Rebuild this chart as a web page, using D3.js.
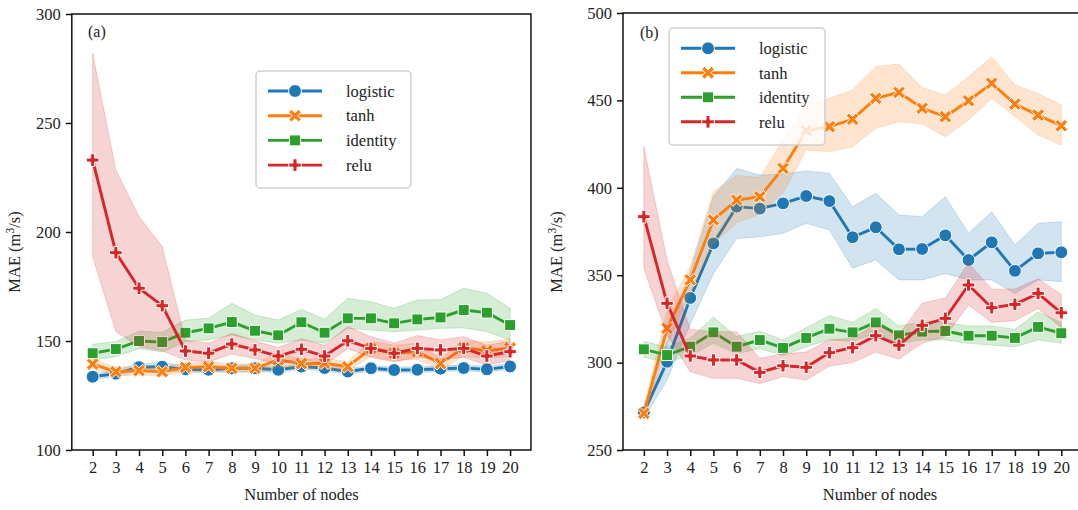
<!DOCTYPE html>
<html>
<head>
<meta charset="utf-8">
<script src="https://cdn.jsdelivr.net/npm/d3@7"></script>
<style>
  html, body { margin: 0; padding: 0; background: #fff; }
  svg { display: block; }
  svg text { font-family: "Liberation Serif", "Times New Roman", Times, serif !important; fill: #222; }
</style>
</head>
<body>
<svg id="chart" width="1078" height="510"></svg>
<script>
// ---------------- DATA ----------------
const nodes = [2,3,4,5,6,7,8,9,10,11,12,13,14,15,16,17,18,19,20];
const seriesNames = ["logistic","tanh","identity","relu"];
const seriesColors = ["#1f77b4","#ff7f0e","#2ca02c","#d62728"];
const seriesMarkers = ["circle","x","square","plus"];

// Panel (a)
const aTicks = [100,150,200,250,300];
const a_logistic    = [133.6,135.0,138.0,138.2,137.0,136.8,137.5,137.5,136.8,138.3,137.6,136.0,137.5,136.7,136.8,137.3,137.6,137.0,138.3];
const a_logistic_lo = [132.5,133.5,136.5,136.5,135.5,135.5,136.0,136.0,135.5,137.0,136.3,134.7,136.2,135.5,135.5,136.0,136.3,135.8,137.0];
const a_logistic_hi = [135.0,136.5,139.5,140.0,138.5,138.2,139.0,139.0,138.2,139.7,139.0,137.3,138.8,138.0,138.2,138.6,139.0,138.3,139.7];
const a_tanh        = [139.4,135.9,136.4,135.9,137.9,138.2,137.5,137.5,141.3,139.6,139.8,138.2,146.6,144.4,145.1,139.6,146.9,145.5,146.8];
const a_tanh_lo     = [137.5,134.0,134.5,134.0,136.0,136.0,135.5,135.5,138.0,137.5,137.5,136.0,143.0,141.0,141.5,137.0,143.0,142.0,143.0];
const a_tanh_hi     = [141.5,138.0,138.5,138.0,140.0,140.5,139.5,139.5,144.5,141.5,142.0,140.5,150.0,148.0,149.0,142.0,150.0,149.5,151.0];
const a_identity    = [144.4,146.3,150.0,149.5,153.8,155.8,158.7,154.7,152.6,158.6,153.8,160.4,160.4,158.1,159.9,160.8,164.2,163.0,157.3];
const a_identity_lo = [141.3,142.8,146.5,145.0,149.7,150.5,152.8,150.5,149.0,150.5,149.0,155.8,155.0,154.3,155.0,155.8,156.0,154.3,150.5];
const a_identity_hi = [148.5,149.7,154.5,154.0,159.6,160.4,167.3,161.9,159.6,164.5,160.0,169.6,168.0,165.0,168.8,169.0,174.2,171.9,165.0];
const a_relu        = [233.0,190.5,174.2,166.2,145.4,144.4,148.6,145.9,143.1,146.2,143.1,150.1,146.6,144.4,146.6,145.9,146.6,143.1,145.1];
const a_relu_lo     = [188.5,154.3,147.4,145.5,141.3,140.5,144.0,142.0,139.5,142.0,139.0,146.6,142.5,140.5,142.5,141.5,142.5,139.0,141.0];
const a_relu_hi     = [282.0,228.4,207.0,193.3,150.4,149.0,153.5,150.0,147.0,151.0,148.0,156.6,152.0,149.0,152.5,150.5,152.0,148.0,150.0];

// Panel (b)
const bTicks = [250,300,350,400,450,500];
const b_logistic    = [271.5,300.5,337.0,368.2,389.2,388.1,391.1,395.3,392.4,371.7,377.4,364.8,365.0,372.8,358.7,368.8,352.5,362.5,363.1];
const b_logistic_lo = [268.0,290.0,322.0,351.0,371.0,372.0,374.0,379.7,375.9,354.0,358.7,347.3,347.3,351.0,347.3,347.3,339.6,347.3,346.3];
const b_logistic_hi = [275.0,312.0,352.0,395.0,411.0,407.3,408.0,409.6,408.3,389.2,396.9,384.4,383.5,394.9,374.0,386.3,367.3,379.7,380.6];
const b_tanh        = [271.0,319.6,347.3,381.6,393.0,394.9,411.1,432.7,435.0,439.2,451.2,454.6,445.5,440.7,449.8,459.8,447.9,441.6,435.5];
const b_tanh_lo     = [268.0,310.0,340.0,368.0,380.0,385.0,397.0,421.6,420.7,423.5,434.0,437.8,436.6,429.2,438.8,451.2,440.8,430.2,424.5];
const b_tanh_hi     = [274.0,330.0,355.0,397.8,407.0,406.0,427.0,446.4,451.2,456.0,469.3,470.8,457.3,453.0,463.6,475.0,458.8,454.0,447.4];
const b_identity    = [307.6,304.3,309.1,317.3,309.1,312.9,308.4,314.1,319.4,317.3,323.0,315.6,317.7,318.1,315.4,315.4,314.1,320.4,316.8];
const b_identity_lo = [303,300,304,311,305,308,304,309,313,312,317,311,313,313,311,310,309,313,311];
const b_identity_hi = [312,309,314,326,315,318,313,320,327,323,331,321,323,323,321,321,319,329,323];
const b_relu        = [383.5,333.9,303.8,301.5,301.5,294.4,298.2,297.3,305.7,308.5,315.4,309.9,321.3,325.3,344.4,331.4,333.3,339.6,328.5];
const b_relu_lo     = [353.9,316.0,294.8,291.0,291.0,288.0,292.0,290.0,298.0,300.0,306.0,302.0,311.0,315.0,333.0,323.0,324.0,331.0,320.0];
const b_relu_hi     = [423.5,358.7,319.0,317.7,317.7,302.4,305.0,306.0,313.0,314.0,322.0,316.0,334.0,337.0,357.0,342.0,342.0,348.0,339.0];

// ---------------- DRAWING ----------------
const svg = d3.select("#chart");
const FONT = '"Liberation Serif", "Times New Roman", Times, serif';

function plusPoly(h, w) {
  return [[-w,-h],[w,-h],[w,-w],[h,-w],[h,w],[w,w],[w,h],[-w,h],[-w,w],[-h,w],[-h,-w],[-w,-w]];
}
function markerPath(type) {
  if (type === "circle") return d3.symbol(d3.symbolCircle, 130)();
  if (type === "square") return d3.symbol(d3.symbolSquare, 120)();
  if (type === "plus") {
    const p = plusPoly(6.3, 2.0);
    return "M" + p.map(q => q.join(",")).join("L") + "Z";
  }
  // filled X
  const p = plusPoly(7.0, 2.0).map(([x,y]) => {
    const c = Math.SQRT1_2;
    return [(x - y) * c, (x + y) * c];
  });
  return "M" + p.map(q => q.map(v => v.toFixed(2)).join(",")).join("L") + "Z";
}

function drawPanel(cfg) {
  const x = d3.scaleLinear().domain([1.1, 20.9]).range([cfg.left, cfg.left + 19.8 * 23.19]);
  const y = d3.scaleLinear().domain(cfg.yDomain).range([cfg.bottom, cfg.top]);
  const g = svg.append("g").attr("font-family", FONT);

  cfg.series.forEach((s, i) => {
    const col = seriesColors[i];
    const rows = nodes.map((n, k) => ({n, v: s.v[k], lo: s.lo[k], hi: s.hi[k]}));
    const area = d3.area().x(d => x(d.n)).y0(d => y(d.lo)).y1(d => y(d.hi));
    g.append("path").datum(rows).attr("d", area)
      .attr("fill", col).attr("fill-opacity", 0.2)
      .attr("stroke", col).attr("stroke-opacity", 0.2).attr("stroke-width", 1);
    const line = d3.line().x(d => x(d.n)).y(d => y(d.v));
    g.append("path").datum(rows).attr("d", line)
      .attr("fill", "none").attr("stroke", col).attr("stroke-width", 2.9);
    const mp = markerPath(seriesMarkers[i]);
    g.selectAll(null).data(rows).enter().append("path")
      .attr("d", mp)
      .attr("transform", d => `translate(${x(d.n)},${y(d.v)})`)
      .attr("fill", col).attr("stroke", "#fff").attr("stroke-width", 1);
  });

  const x0 = x.range()[0], x1 = x.range()[1];
  g.append("rect").attr("x", x0).attr("y", cfg.top).attr("width", x1 - x0).attr("height", cfg.bottom - cfg.top)
    .attr("fill", "none").attr("stroke", "#111").attr("stroke-width", 1.5);

  const xa = g.append("g").attr("transform", `translate(0,${cfg.bottom})`)
    .call(d3.axisBottom(x).tickValues(nodes).tickFormat(d3.format("d")).tickSize(6).tickPadding(5));
  const ya = g.append("g").attr("transform", `translate(${x0},0)`)
    .call(d3.axisLeft(y).tickValues(cfg.yTicks).tickFormat(d3.format("d")).tickSize(6).tickPadding(5));
  [xa, ya].forEach(a => {
    a.attr("font-family", FONT).attr("font-size", 16.5);
    a.select(".domain").remove();
    a.selectAll(".tick line").attr("stroke", "#111").attr("stroke-width", 1.5);
    a.selectAll(".tick text").attr("fill", "#222");
  });

  g.append("text").attr("x", cfg.xLabelX).attr("y", 500).attr("text-anchor", "middle")
    .attr("font-size", 16.5).text("Number of nodes");
  const yl = g.append("text").attr("transform", `translate(${cfg.yLabelX},252) rotate(-90)`)
    .attr("text-anchor", "middle").attr("font-size", 16.5);
  yl.append("tspan").text("MAE (m");
  yl.append("tspan").attr("font-size", 11.5).attr("dy", -6).text("3");
  yl.append("tspan").attr("dy", 6).text("/s)");

  g.append("text").attr("x", cfg.tagX).attr("y", cfg.tagY).attr("font-size", 16).text(cfg.tag);

  const L = cfg.legend;
  g.append("rect").attr("x", L.x).attr("y", L.y).attr("width", L.w).attr("height", L.h)
    .attr("rx", 4).attr("fill", "#fff").attr("fill-opacity", 0.8)
    .attr("stroke", "#d0d0d0").attr("stroke-width", 1.5);
  seriesNames.forEach((name, i) => {
    const yy = L.rowY0 + i * L.rowDy;
    g.append("line").attr("x1", L.lx1).attr("x2", L.lx2).attr("y1", yy).attr("y2", yy)
      .attr("stroke", seriesColors[i]).attr("stroke-width", 2.9);
    g.append("path").attr("d", markerPath(seriesMarkers[i]))
      .attr("transform", `translate(${(L.lx1 + L.lx2) / 2},${yy})`)
      .attr("fill", seriesColors[i]).attr("stroke", "#fff").attr("stroke-width", 1);
    g.append("text").attr("x", L.tx).attr("y", yy).attr("dy", "0.35em")
      .attr("font-size", 16.5).text(name);
  });
}

drawPanel({
  left: 71.8, top: 14, bottom: 450, yDomain: [100, 300], yTicks: aTicks,
  xLabelX: 301.5, yLabelX: 20, tag: "(a)", tagX: 88, tagY: 37,
  series: [
    {v: a_logistic, lo: a_logistic_lo, hi: a_logistic_hi},
    {v: a_tanh, lo: a_tanh_lo, hi: a_tanh_hi},
    {v: a_identity, lo: a_identity_lo, hi: a_identity_hi},
    {v: a_relu, lo: a_relu_lo, hi: a_relu_hi}
  ],
  legend: {x: 256, y: 71, w: 155, h: 117, rowY0: 91, rowDy: 24.7, lx1: 268, lx2: 322, tx: 346}
});

drawPanel({
  left: 623, top: 13, bottom: 450, yDomain: [250, 500], yTicks: bTicks,
  xLabelX: 880, yLabelX: 562, tag: "(b)", tagX: 640, tagY: 38,
  series: [
    {v: b_logistic, lo: b_logistic_lo, hi: b_logistic_hi},
    {v: b_tanh, lo: b_tanh_lo, hi: b_tanh_hi},
    {v: b_identity, lo: b_identity_lo, hi: b_identity_hi},
    {v: b_relu, lo: b_relu_lo, hi: b_relu_hi}
  ],
  legend: {x: 669, y: 28, w: 156, h: 117, rowY0: 48.3, rowDy: 24.5, lx1: 681, lx2: 735, tx: 759}
});
</script>
</body>
</html>
